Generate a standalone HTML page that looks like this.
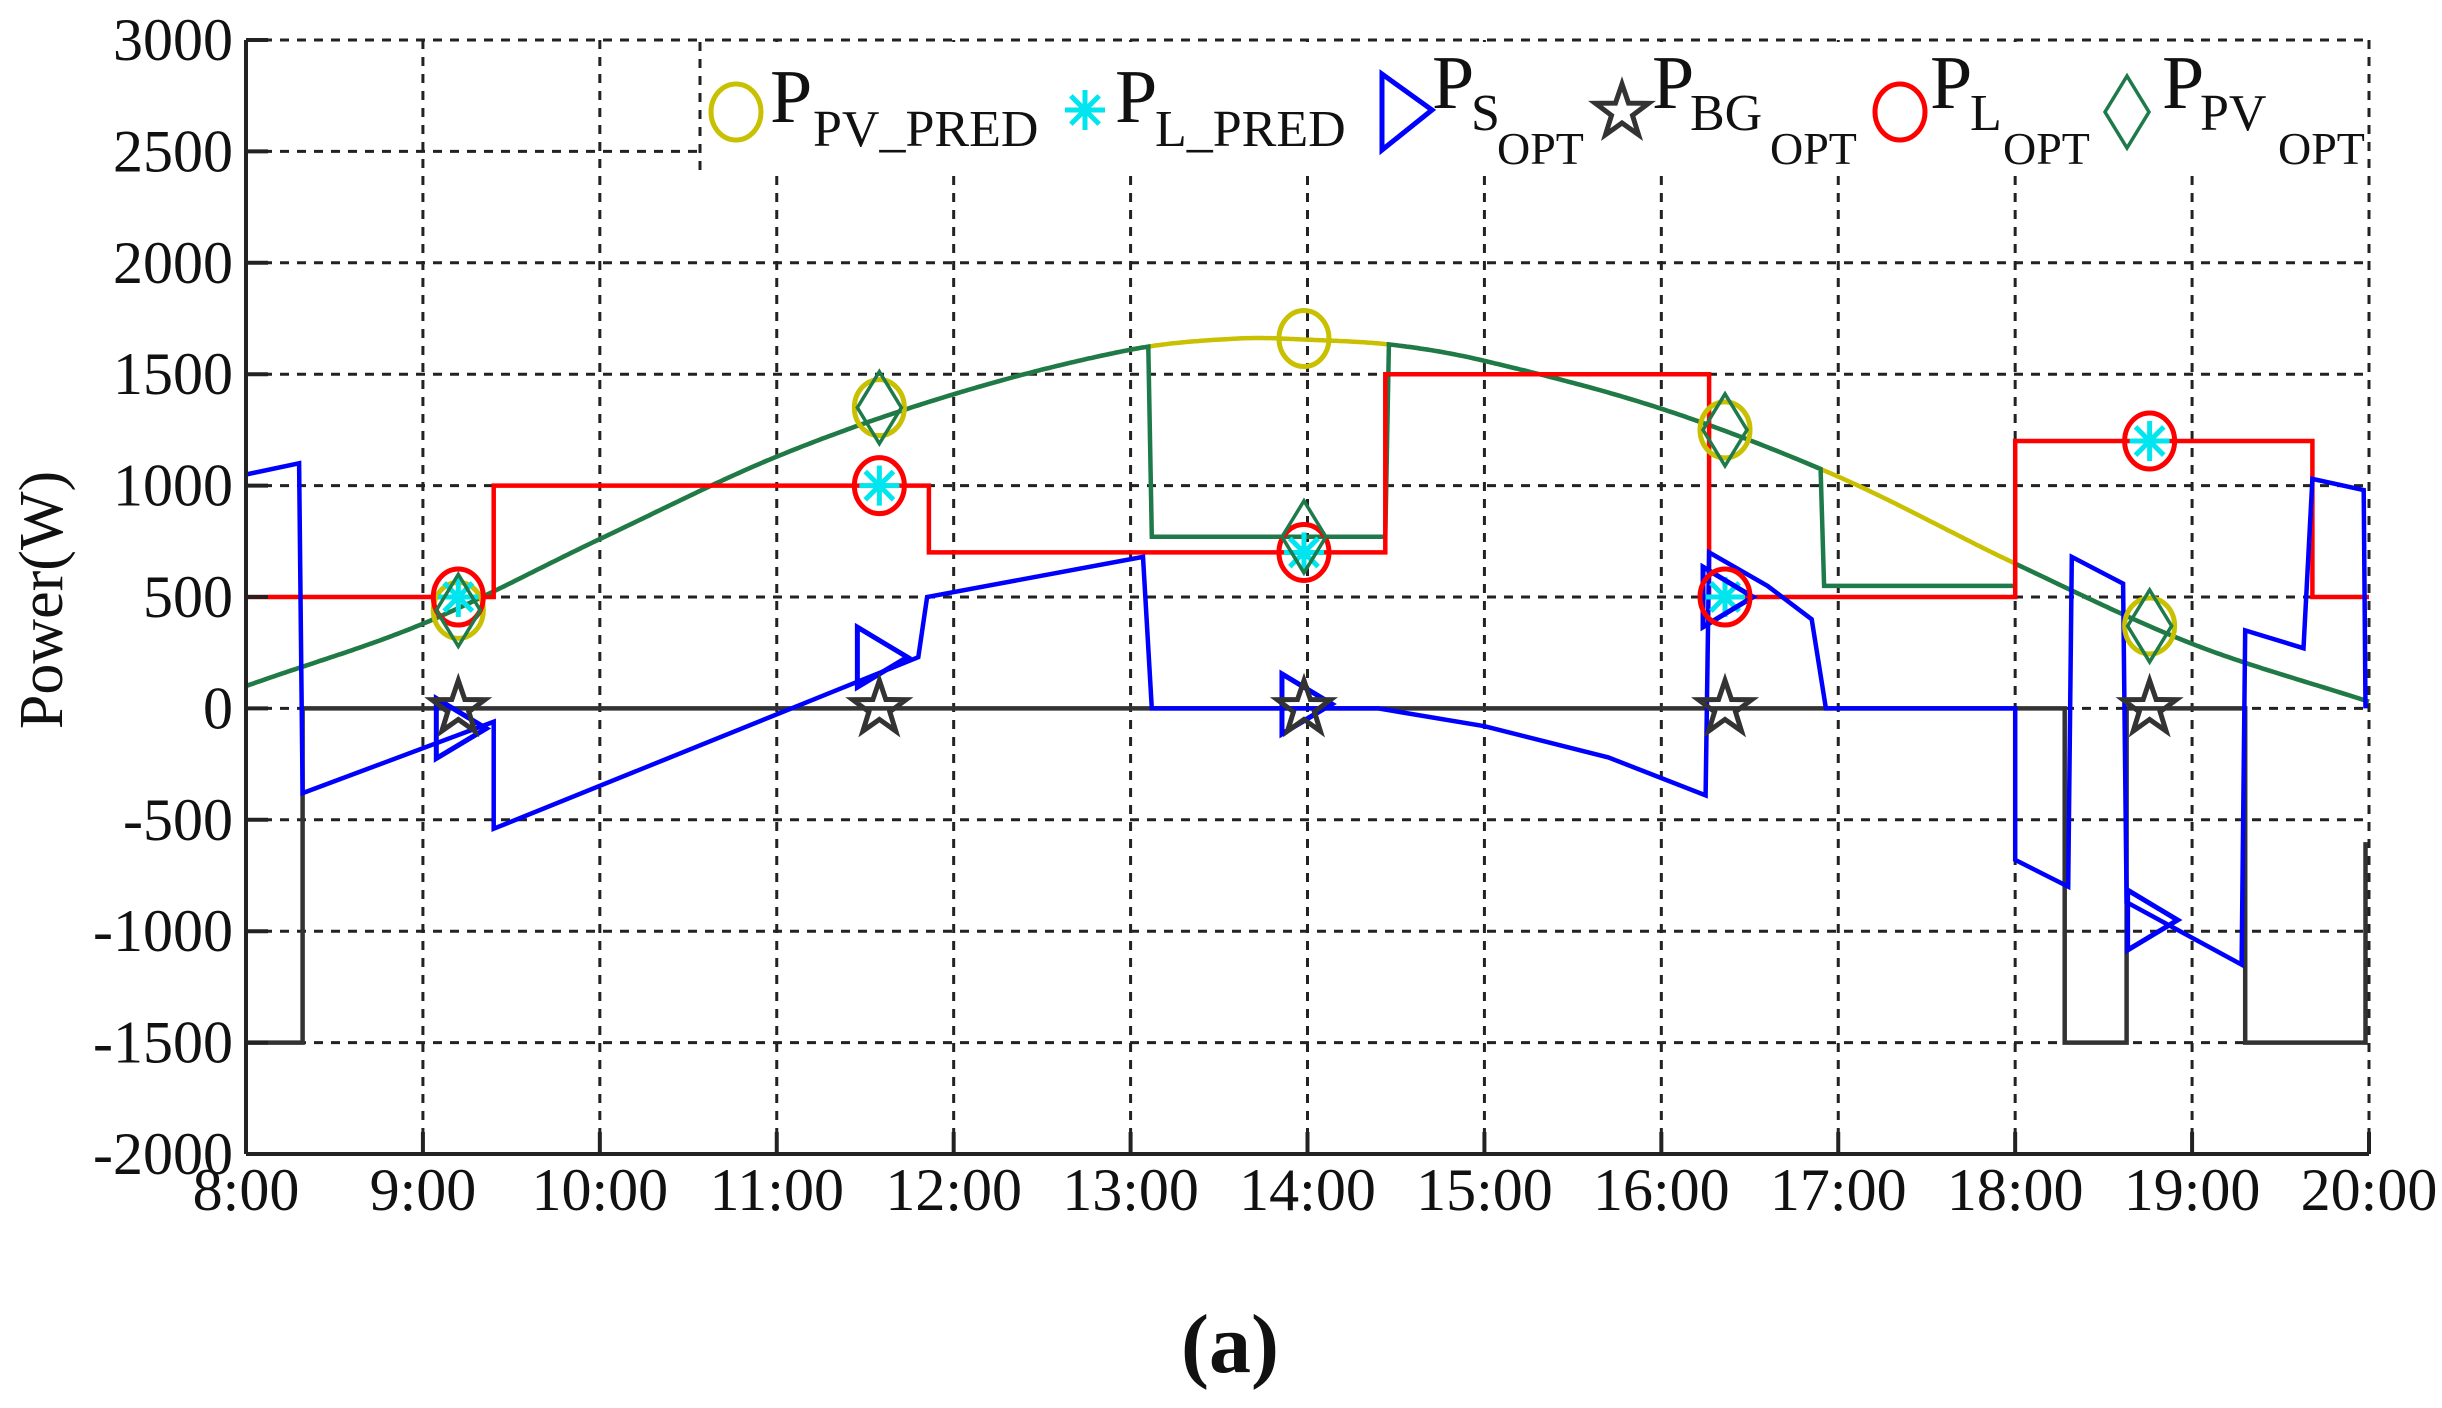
<!DOCTYPE html>
<html><head><meta charset="utf-8">
<style>
html,body{margin:0;padding:0;background:#fff;width:2442px;height:1408px;overflow:hidden}
svg{display:block}
text{font-family:"Liberation Serif",serif;fill:#111}
</style></head>
<body>
<svg id="s" width="2442" height="1408" viewBox="0 0 2442 1408" xmlns="http://www.w3.org/2000/svg">
<rect width="2442" height="1408" fill="#fff"/>
<g id="grid" stroke="#222" stroke-width="3" stroke-dasharray="9,8" fill="none"></g>
<g id="series" fill="none" stroke-width="4.5" stroke-linejoin="miter"></g>
<g id="marks" fill="none" stroke-width="5"></g>
<rect x="700" y="42" width="1667" height="128" fill="#fff"/>
<g id="legend" fill="none" stroke-width="5"></g>
<g id="axes" stroke="#222" stroke-width="4" fill="none"></g>
<g id="labels" font-size="60"></g>
<text x="0" y="0" font-size="62" transform="translate(62,600) rotate(-90)" text-anchor="middle">Power(W)</text>
<text x="1230" y="1372" font-size="84" font-weight="bold" text-anchor="middle">(a)</text>
<g font-size="76">
<text x="770" y="122">P</text><text x="813" y="146" font-size="52">PV_PRED</text>
<text x="1115" y="122">P</text><text x="1155" y="146" font-size="52">L_PRED</text>
<text x="1432" y="108">P</text><text x="1471" y="130" font-size="52">S</text><text x="1497" y="164" font-size="46">OPT</text>
<text x="1652" y="108">P</text><text x="1690" y="130" font-size="52">BG</text><text x="1770" y="164" font-size="46">OPT</text>
<text x="1930" y="108">P</text><text x="1970" y="130" font-size="52">L</text><text x="2003" y="164" font-size="46">OPT</text>
<text x="2162" y="108">P</text><text x="2200" y="130" font-size="52">PV</text><text x="2278" y="164" font-size="46">OPT</text>
</g>
</svg>
<script>
const L=246,R=2369,T=40,B=1154;
const X=h=>L+(h-8)*(R-L)/12, Y=v=>T+(3000-v)*(B-T)/5000;
const NS="http://www.w3.org/2000/svg";
function el(g,tag,a){const e=document.createElementNS(NS,tag);for(const k in a)e.setAttribute(k,a[k]);document.getElementById(g).appendChild(e);return e;}
for(let h=9;h<20;h++) el('grid','line',{x1:X(h),y1:T,x2:X(h),y2:B});
for(let v=-1500;v<=3000;v+=500) el('grid','line',{x1:L,y1:Y(v),x2:R,y2:Y(v)});
el('grid','line',{x1:R,y1:T,x2:R,y2:B});
el('axes','line',{x1:L,y1:T,x2:L,y2:B});
el('axes','line',{x1:L,y1:B,x2:R,y2:B});
for(let h=8;h<=20;h++){el('axes','line',{x1:X(h),y1:B,x2:X(h),y2:B-22});
 el('labels','text',{x:X(h),y:B+56,'text-anchor':'middle'}).textContent=h+':00';}
for(let v=-2000;v<=3000;v+=500){el('axes','line',{x1:L,y1:Y(v),x2:L+22,y2:Y(v)});
 el('labels','text',{x:233,y:Y(v)+20,'text-anchor':'end'}).textContent=v;}
const CP=[[7.5,-50],[8,100],[9,380],[10,760],[11,1130],[12,1410],[13,1610],[13.6,1660],[14,1655],[14.5,1630],[15,1560],[16,1345],[17,1040],[18,650],[19,290],[20,30],[20.5,-100]];
function pv(h){for(let i=1;i<CP.length-2;i++){if(h<=CP[i+1][0]){const p0=CP[i-1],p1=CP[i],p2=CP[i+1],p3=CP[i+2];const t=(h-p1[0])/(p2[0]-p1[0]);
 const m1=(p2[1]-p0[1])/(p2[0]-p0[0])*(p2[0]-p1[0]),m2=(p3[1]-p1[1])/(p3[0]-p1[0])*(p2[0]-p1[0]);
 const t2=t*t,t3=t2*t;return (2*t3-3*t2+1)*p1[1]+(t3-2*t2+t)*m1+(-2*t3+3*t2)*p2[1]+(t3-t2)*m2;}}return 30;}
function pts(arr){return arr.map(p=>X(p[0]).toFixed(1)+','+Y(p[1]).toFixed(1)).join(' ');}
function curve(a,b){const r=[];for(let h=a;h<=b+1e-9;h+=0.02)r.push([h,pv(h)]);return r;}
function line(c,arr,w){el('series','polyline',{points:pts(arr),stroke:c,'stroke-width':w||4.5});}
line('#c8c000',curve(8,20));
line('#333',[[8,-1500],[8.32,-1500],[8.32,0],[18.28,0],[18.28,-1500],[18.63,-1500],[18.63,0],[19.3,0],[19.3,-1500],[19.98,-1500],[19.98,-600]]);
line('#1e7a4a',[...curve(8,13.1),[13.12,770],[14.44,770],...curve(14.46,16.9),[16.92,550],[18.0,550],...curve(18.0,20)]);
line('#ff0000',[[8,500],[9.4,500],[9.4,1000],[11.86,1000],[11.86,700],[14.44,700],[14.44,1500],[16.27,1500],[16.27,500],[18.0,500],[18.0,1200],[19.68,1200],[19.68,500],[20,500]]);
line('#0000ff',[[8,1050],[8.3,1100],[8.32,-380],[9.4,-60],[9.4,-540],[11.8,230],[11.85,500],[13.07,680],[13.12,0],[13.3,0],
 [14.4,0],[15,-80],[15.7,-220],[16.25,-390],[16.27,700],[16.6,550],[16.85,400],[16.93,0],[17.3,0],[18.0,0],[18.0,-680],[18.3,-800],[18.32,680],[18.61,560],[18.63,-870],[19.28,-1150],[19.3,350],[19.63,270],[19.68,1030],[19.97,980],[19.98,0]]);
function circ(g,cx,cy,c){el(g,'ellipse',{cx,cy,rx:25,ry:28,stroke:c});}
function ast(g,cx,cy){for(let i=0;i<4;i++){const a=i*Math.PI/4;el(g,'line',{x1:cx-20*Math.cos(a),y1:cy-20*Math.sin(a),x2:cx+20*Math.cos(a),y2:cy+20*Math.sin(a),stroke:'#00e5ee','stroke-width':5});}}
function tri(g,cx,cy){el(g,'polygon',{points:`${cx-22},${cy-30} ${cx+28},${cy} ${cx-22},${cy+30}`,stroke:'#0000ff'});}
function dia(g,cx,cy){el(g,'polygon',{points:`${cx},${cy-36} ${cx+22},${cy} ${cx},${cy+36} ${cx-22},${cy}`,stroke:'#1e7a4a','stroke-width':3.5});}
function star(g,cx,cy){let p=[];for(let i=0;i<10;i++){const r=i%2?11:28,a=-Math.PI/2+i*Math.PI/5;p.push((cx+r*Math.cos(a)).toFixed(1)+','+(cy+r*Math.sin(a)).toFixed(1));}el(g,'polygon',{points:p.join(' '),stroke:'#333','stroke-width':5});}
const M=[[9.2,440,500,500,-90,440],[11.58,1350,1000,1000,230,1350],[13.98,1660,700,700,20,770],[16.36,1250,500,500,500,1250],[18.76,370,1200,1200,-950,370]];
for(const m of M){const x=X(m[0]);
 circ('marks',x,Y(m[1]),'#c8c000');ast('marks',x,Y(m[2]));tri('marks',x,Y(m[4]));star('marks',x,Y(0));circ('marks',x,Y(m[3]),'#ff0000');dia('marks',x,Y(m[5]));}
circ('legend',736,112,'#c8c000');ast('legend',1085,110);
el('legend','polygon',{points:'1382,74 1432,110 1382,150',stroke:'#0000ff','stroke-width':5});
star('legend',1622,112);circ('legend',1900,112,'#ff0000');dia('legend',2127,112);
el('legend','line',{x1:700,y1:42,x2:700,y2:170,stroke:'#222','stroke-width':3,'stroke-dasharray':'9,8'});
</script>
</body></html>
